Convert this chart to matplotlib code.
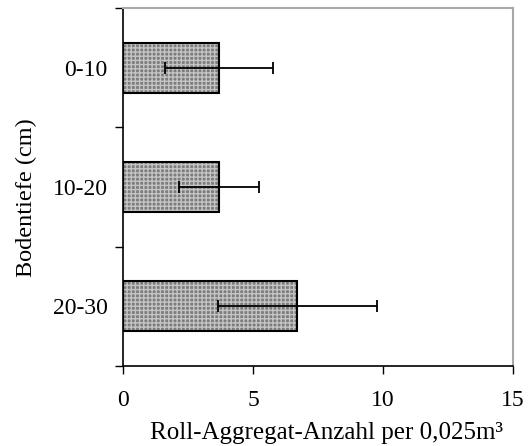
import matplotlib
matplotlib.use("Agg")
import matplotlib.pyplot as plt
import numpy as np

categories = ["0-10", "10-20", "20-30"]
means = [3.7, 3.7, 6.7]
errors = [2.07, 1.53, 3.05]
xticks = [0, 5, 10, 15]

plt.rcParams['font.family'] = ['Liberation Serif', 'DejaVu Serif']
fs = 17

fig = plt.figure(figsize=(5.29, 4.46), dpi=100)
ax = fig.add_axes([123/529, 1-366/446, (513-123)/529, (366-8)/446])

pos = np.array([2.5, 1.5, 0.5])
h = 0.42
ax.barh(pos, means, height=h, color='#7c7c7c', edgecolor='#c4c4c4', hatch='++++', linewidth=0, zorder=2)
ax.barh(pos, means, height=h, color='none', edgecolor='black', linewidth=1.5, zorder=3)
ax.errorbar(means, pos, xerr=errors, fmt='none', ecolor='black', elinewidth=1.3,
            capsize=4.5, capthick=1.3, zorder=4)

ax.set_xlim(0, 15)
ax.set_ylim(0, 3)
ax.set_xticks(xticks)
ax.set_xticklabels([str(t) for t in xticks], fontsize=fs)
ax.set_yticks([0, 1, 2, 3])
ax.set_yticklabels([])
ax.set_yticks(pos, minor=True)
ax.set_yticklabels(categories, minor=True, fontsize=fs)
ax.tick_params(axis='y', which='minor', length=0, pad=11)
ax.tick_params(axis='y', which='major', length=6, width=1, direction='out')
ax.tick_params(axis='x', length=6, width=1, direction='out', pad=11)

for s in ['left', 'bottom']:
    ax.spines[s].set_linewidth(1.2)
for s in ['top', 'right']:
    ax.spines[s].set_color('#a8a8a8')
    ax.spines[s].set_linewidth(1.5)

ax.set_xlabel("Roll-Aggregat-Anzahl per 0,025m³", fontsize=18)
ax.set_ylabel("Bodentiefe (cm)", fontsize=17.5)
ax.xaxis.set_label_coords(0.5 + 8 / 390, -(433 - 366) / 358, transform=ax.transAxes)
ax.xaxis.label.set_va('center')
ax.yaxis.set_label_coords(-(123 - 26) / 390, (366 - 198) / 358)
ax.yaxis.label.set_va('center')

fig.savefig("out.png", dpi=100)
